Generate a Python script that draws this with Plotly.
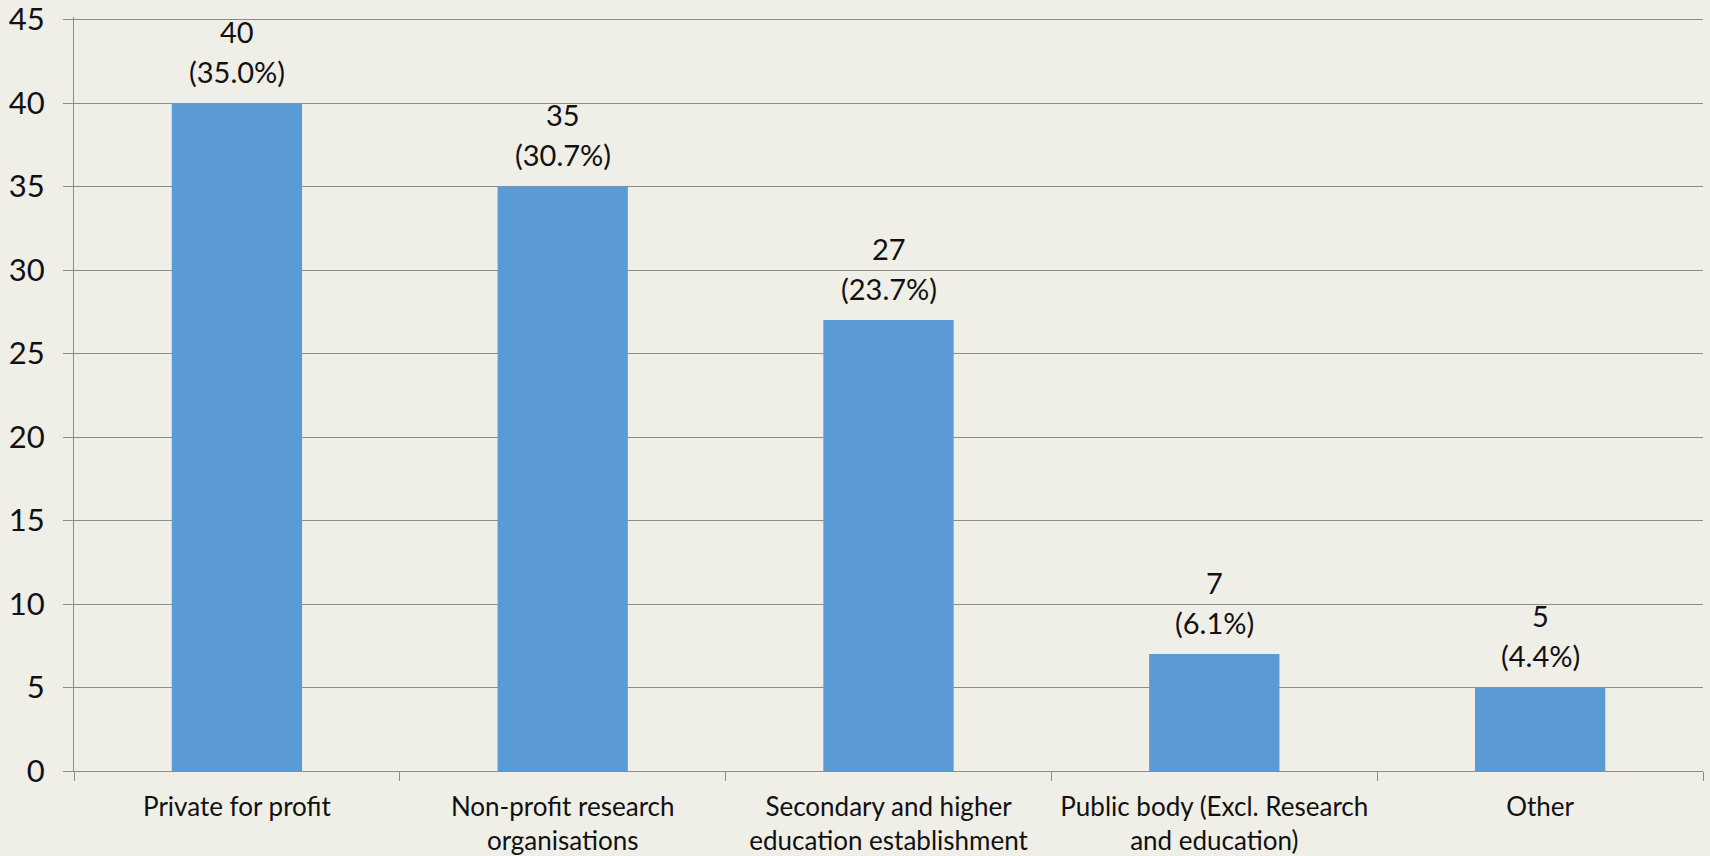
import plotly.graph_objects as go

categories = ["Private for profit", "Non-profit research<br>organisations",
              "Secondary and higher<br>education establishment",
              "Public body (Excl. Research<br>and education)", "Other"]
values = [40, 35, 27, 7, 5]
percents = ["35.0%", "30.7%", "23.7%", "6.1%", "4.4%"]
y_ticks = [0, 5, 10, 15, 20, 25, 30, 35, 40, 45]

BG = "#EFEEE7"
BAR = "#5B9BD5"
GRID = "#8C8C8C"
FONT = "Lato"

fig = go.Figure(go.Bar(x=categories, y=values, marker=dict(color=BAR, line=dict(width=0)),
                       width=0.4, hoverinfo="x+y"))

annotations = []
for c, v, p in zip(categories, values, percents):
    annotations.append(dict(x=c, y=v, xref="x", yref="y", text=str(v), showarrow=False,
                            yanchor="middle", yshift=72, font=dict(size=29, color="#111", family=FONT)))
    annotations.append(dict(x=c, y=v, xref="x", yref="y", text="(" + p + ")", showarrow=False,
                            yanchor="middle", yshift=32, font=dict(size=29, color="#111", family=FONT)))

fig.update_layout(
    width=1710, height=856,
    margin=dict(l=73.5, r=7, t=17, b=85),
    paper_bgcolor=BG, plot_bgcolor=BG,
    font=dict(family=FONT, size=26, color="#111"),
    showlegend=False,
    annotations=annotations,
    xaxis=dict(type="category", showline=True, linecolor=GRID, linewidth=1.3,
               ticks="outside", tickson="boundaries", ticklen=9, tickcolor=GRID, tickwidth=1.3,
               showgrid=False, automargin=False, ticklabelstandoff=13,
               ticklabeloverflow="allow",
               tickfont=dict(size=26, family=FONT, color="#111")),
    yaxis=dict(range=[0, 45.15], tickvals=y_ticks, showline=True, linecolor=GRID, linewidth=1.3,
               ticks="outside", ticklen=10, tickcolor=GRID, tickwidth=1.3,
               showgrid=True, gridcolor=GRID, gridwidth=1.3, zeroline=False,
               ticklabelstandoff=12, automargin=False, ticklabeloverflow="allow",
               tickfont=dict(size=31, family=FONT, color="#111")),
)

fig.write_html("out.html", config={"displayModeBar": False},
               post_script="document.body.style.margin='0px';document.body.style.background='" + BG + "';")
